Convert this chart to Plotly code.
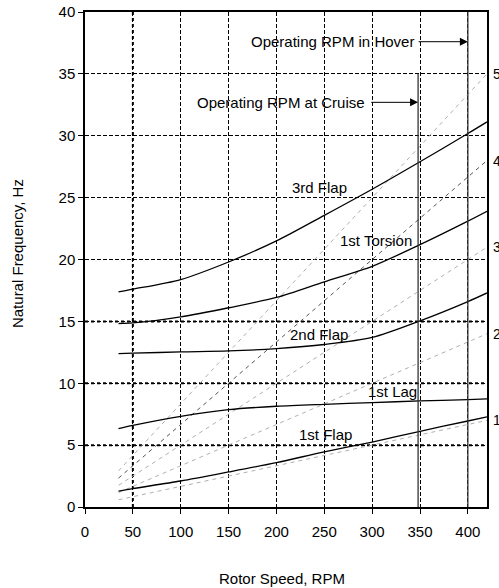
import plotly.graph_objects as go

# ---- data ----
rpm = [35, 50, 100, 150, 200, 250, 300, 350, 400, 420]
first_flap = [1.29, 1.49, 2.10, 2.83, 3.59, 4.45, 5.25, 6.12, 6.95, 7.28]
first_lag = [6.34, 6.60, 7.33, 7.87, 8.14, 8.30, 8.44, 8.57, 8.68, 8.73]
second_flap = [12.40, 12.43, 12.53, 12.61, 12.80, 13.13, 13.70, 15.04, 16.60, 17.30]
first_torsion = [14.83, 14.88, 15.37, 16.10, 16.93, 18.20, 19.45, 21.20, 23.10, 23.90]
third_flap = [17.38, 17.60, 18.38, 19.80, 21.50, 23.57, 25.68, 27.90, 30.18, 31.12]

modes = ["1st Flap", "1st Lag", "2nd Flap", "1st Torsion", "3rd Flap"]
mode_values = [first_flap, first_lag, second_flap, first_torsion, third_flap]
label_rpm = [251.6, 321.2, 244.3, 304.5, 244.6]
label_hz = [5.85, 9.3, 13.95, 21.56, 25.8]

per_rev = [1, 2, 3, 4, 5]
rev_rpm = [35, 420]

cruise_rpm = 348
hover_rpm = 400
cruise_top = 35

x_ticks = [0, 50, 100, 150, 200, 250, 300, 350, 400]
y_ticks = [0, 5, 10, 15, 20, 25, 30, 35, 40]

fig = go.Figure()

# per-rev lines
for n in per_rev:
    fig.add_trace(go.Scatter(
        x=rev_rpm, y=[n * r / 60 for r in rev_rpm], mode="lines",
        line=dict(color="#555555" if n == 4 else "#b0b0b0", width=1, dash="4px,4px"),
        hoverinfo="skip", showlegend=False))
    fig.add_annotation(x=1, xref="paper", y=n * rev_rpm[-1] / 60, yref="y",
                       text=str(n), showarrow=False, xanchor="left", xshift=4,
                       font=dict(size=14, color="black"))

# mode curves
for name, vals, lx, ly in zip(modes, mode_values, label_rpm, label_hz):
    fig.add_trace(go.Scatter(x=rpm, y=vals, mode="lines", name=name,
                             line=dict(color="black", width=1.3, shape="spline", smoothing=0.8),
                             showlegend=False))
    fig.add_annotation(x=lx, y=ly, text=name, showarrow=False,
                       font=dict(size=15, color="black"))

# bold grid lines
for yv in [5, 10, 15]:
    fig.add_shape(type="line", x0=0, x1=420, y0=yv, y1=yv,
                  line=dict(color="black", width=2, dash="dot"), layer="below")
fig.add_shape(type="line", x0=50, x1=50, y0=0, y1=40,
              line=dict(color="black", width=2, dash="dot"), layer="below")

# operating RPM lines
fig.add_shape(type="line", x0=cruise_rpm, x1=cruise_rpm, y0=0, y1=cruise_top,
              line=dict(color="#333333", width=1.3))
fig.add_shape(type="line", x0=hover_rpm, x1=hover_rpm, y0=0, y1=40,
              line=dict(color="#333333", width=1.3))

# arrows + texts
fig.add_annotation(x=hover_rpm, y=37.6, ax=347, ay=37.6, axref="x", ayref="y",
                   text="", showarrow=True, arrowhead=2, arrowsize=1.6, arrowwidth=1,
                   arrowcolor="black")
fig.add_annotation(x=346, y=37.6, text="Operating RPM in Hover", showarrow=False,
                   xanchor="right", font=dict(size=15, color="black"))
fig.add_annotation(x=cruise_rpm, y=32.7, ax=297.5, ay=32.7, axref="x", ayref="y",
                   text="", showarrow=True, arrowhead=2, arrowsize=1.6, arrowwidth=1,
                   arrowcolor="black")
fig.add_annotation(x=295, y=32.7, text="Operating RPM at Cruise", showarrow=False,
                   xanchor="right", font=dict(size=15, color="black"))

# axis titles
fig.add_annotation(x=0.49, xref="paper", y=0, yref="paper", yshift=-71,
                   text="Rotor Speed, RPM", showarrow=False, yanchor="middle",
                   font=dict(size=15, color="black"))
fig.add_annotation(x=0, xref="paper", xshift=-68, y=0.511, yref="paper",
                   text="Natural Frequency, Hz", showarrow=False, textangle=-90,
                   xanchor="center", yanchor="middle",
                   font=dict(size=15, color="black"))

fig.update_xaxes(range=[0, 420], tickvals=x_ticks, ticks="outside", ticklen=5,
                 tickcolor="black", showline=True, linecolor="black", linewidth=1.5,
                 mirror=True, showgrid=True, gridcolor="black", gridwidth=1,
                 griddash="4px,2px", zeroline=False, ticklabelstandoff=5,
                 ticklabeloverflow="allow", automargin=False,
                 tickfont=dict(size=15, color="black"))
fig.update_yaxes(range=[0, 40], tickvals=y_ticks, ticks="outside", ticklen=5,
                 tickcolor="black", showline=True, linecolor="black", linewidth=1.5,
                 mirror=True, showgrid=True, gridcolor="black", gridwidth=1,
                 griddash="4px,2px", zeroline=False, ticklabeloverflow="allow",
                 automargin=False,
                 tickfont=dict(size=15, color="black"))

fig.update_layout(width=499, height=588,
                  margin=dict(l=85, r=12, t=12, b=81),
                  plot_bgcolor="white", paper_bgcolor="white",
                  font=dict(family="Liberation Sans, Arial, sans-serif", color="black"))

# remove the default page margin and scrollbars so the figure fills the window exactly
fig.write_html("out.html",
               config={"displayModeBar": False},
               post_script="document.body.style.margin='0';"
                           "document.body.style.overflow='hidden';"
                           "document.documentElement.style.overflow='hidden';")
